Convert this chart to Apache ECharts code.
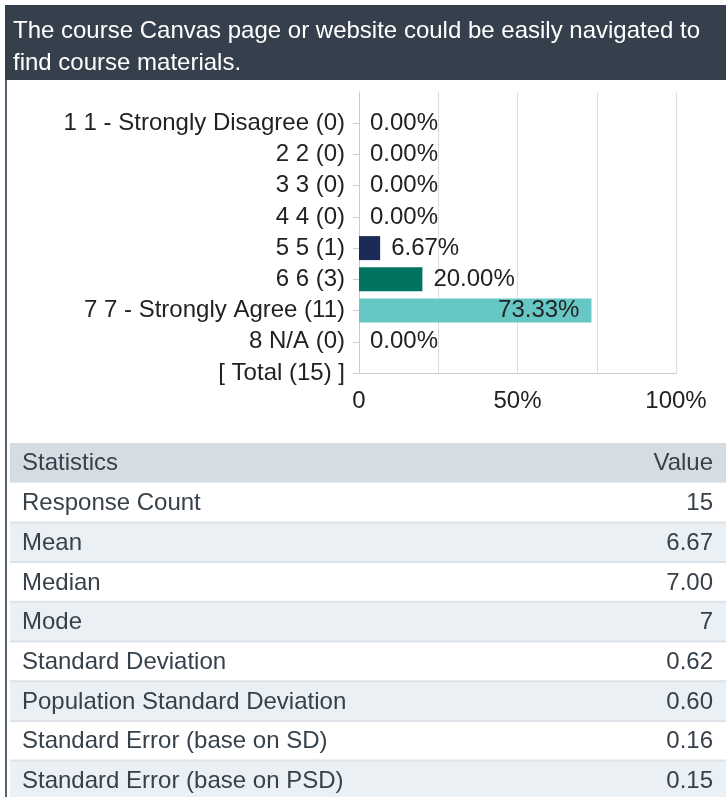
<!DOCTYPE html>
<html>
<head>
<meta charset="utf-8">
<script src="https://cdn.jsdelivr.net/npm/echarts@6/dist/echarts.min.js"></script>
<style>
html, body { margin: 0; padding: 0; background: #fff; }
#main { width: 726px; height: 797px; }
</style>
</head>
<body>
<div id="main"></div>
<script>
// question text
var titleLines = ['The course Canvas page or website could be easily navigated to', 'find course materials.'];

// answer options (first slot is empty padding above the first row)
var categories = ['', '1 1 - Strongly Disagree (0)', '2 2 (0)', '3 3 (0)', '4 4 (0)', '5 5 (1)', '6 6 (3)', '7 7 - Strongly Agree (11)', '8 N/A (0)', '[ Total (15) ]'];
var percents = [null, 0, 0, 0, 0, 6.67, 20.00, 73.33, 0, null];
var barColors = [null, '#1b2a57', '#1b2a57', '#1b2a57', '#1b2a57', '#1b2a57', '#00735f', '#67c7c5', '#1b2a57', null];
var xTicks = [0, 25, 50, 75, 100];

// statistics table
var statHeader = ['Statistics', 'Value'];
var statNames = ['Response Count', 'Mean', 'Median', 'Mode', 'Standard Deviation', 'Population Standard Deviation', 'Standard Error (base on SD)', 'Standard Error (base on PSD)'];
var statValues = ['15', '6.67', '7.00', '7', '0.62', '0.60', '0.16', '0.15'];

var font = '"Liberation Sans", Arial, Helvetica, sans-serif';
var fs = 24;
var myChart = echarts.init(document.getElementById('main'));

var barData = percents.map(function(v, i) {
  if (v === null) return null;
  var item = { value: v, itemStyle: { color: barColors[i] } };
  if (v > 50) {
    item.label = { position: 'insideRight', distance: 12 };
  }
  return item;
});

// header + table as graphic elements
var graphics = [];
graphics.push({ type: 'rect', shape: { x: 5, y: 5, width: 721, height: 75 }, style: { fill: '#36404c' } });
titleLines.forEach(function(t, i) {
  graphics.push({
    type: 'text', x: 13, y: 31 + i * 32,
    style: { text: t, fill: '#ffffff', fontSize: fs, fontFamily: font, verticalAlign: 'middle', align: 'left' }
  });
});
graphics.push({ type: 'rect', shape: { x: 5, y: 80, width: 2, height: 717 }, style: { fill: '#566170' } });

var tableTop = 443, rowH = 39.7;
graphics.push({ type: 'rect', shape: { x: 10, y: tableTop, width: 716, height: rowH }, style: { fill: '#d6dde2' } });
graphics.push({
  type: 'text', x: 22, y: tableTop + rowH / 2 + 1,
  style: { text: statHeader[0], fill: '#37414c', fontSize: fs, fontFamily: font, verticalAlign: 'middle', align: 'left' }
});
graphics.push({
  type: 'text', x: 713, y: tableTop + rowH / 2 + 1,
  style: { text: statHeader[1], fill: '#37414c', fontSize: fs, fontFamily: font, verticalAlign: 'middle', align: 'right' }
});
statNames.forEach(function(name, i) {
  var y = tableTop + rowH * (i + 1);
  graphics.push({ type: 'rect', shape: { x: 10, y: y, width: 716, height: rowH }, style: { fill: i % 2 === 0 ? '#ffffff' : '#ebf0f4' } });
  if (i > 0) {
    graphics.push({ type: 'rect', shape: { x: 10, y: y - 1, width: 716, height: 2 }, style: { fill: '#dde3e8' } });
  }
  graphics.push({
    type: 'text', x: 22, y: y + rowH / 2 + 1,
    style: { text: name, fill: '#37414c', fontSize: fs, fontFamily: font, verticalAlign: 'middle', align: 'left' }
  });
  graphics.push({
    type: 'text', x: 713, y: y + rowH / 2 + 1,
    style: { text: statValues[i], fill: '#37414c', fontSize: fs, fontFamily: font, verticalAlign: 'middle', align: 'right' }
  });
});

option = {
  backgroundColor: '#ffffff',
  animation: false,
  textStyle: { fontFamily: font },
  grid: { left: 359, right: 50, top: 92, bottom: 424, containLabel: false },
  xAxis: {
    type: 'value',
    min: xTicks[0],
    max: xTicks[xTicks.length - 1],
    interval: 25,
    axisLine: { show: true, lineStyle: { color: '#cccccc' } },
    axisTick: { show: false },
    splitLine: { show: true, lineStyle: { color: '#dddddd', width: 1 } },
    axisLabel: {
      color: '#222222', fontSize: fs, margin: 16, fontFamily: font,
      formatter: function(v) {
        if (v % 50 !== 0) return '';
        return v === 0 ? '0' : v + '%';
      }
    }
  },
  yAxis: {
    type: 'category',
    inverse: true,
    boundaryGap: false,
    data: categories,
    axisLine: { show: true, lineStyle: { color: '#cccccc' } },
    axisTick: {
      show: true, length: 6, lineStyle: { color: '#cccccc' },
      interval: function(index) { return index !== 0; }
    },
    axisLabel: { color: '#222222', fontSize: fs, margin: 14, fontFamily: font, interval: 0 },
    splitLine: { show: false }
  },
  series: [{
    type: 'bar',
    data: barData,
    barWidth: 24,
    label: {
      show: true,
      position: 'right',
      distance: 11,
      color: '#222222',
      fontSize: fs,
      fontFamily: font,
      formatter: function(p) { return p.value.toFixed(2) + '%'; }
    }
  }],
  graphic: graphics
};

myChart.setOption(option);
</script>
</body>
</html>
